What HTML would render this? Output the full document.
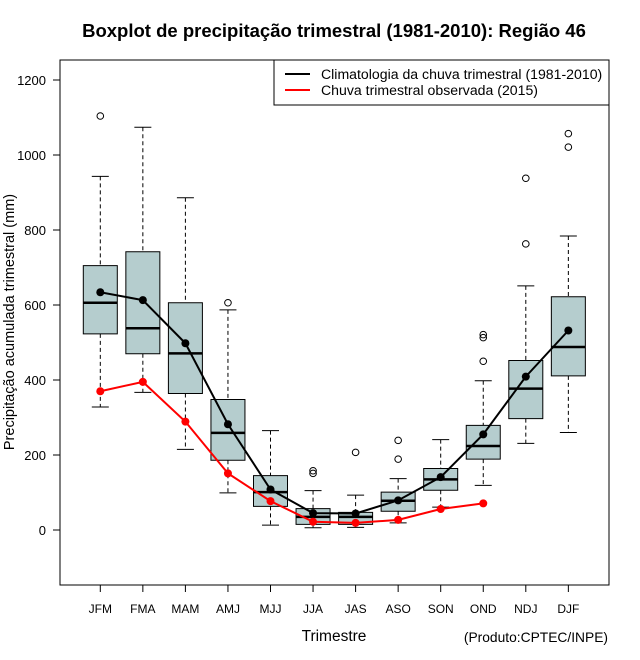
<!DOCTYPE html>
<html><head><meta charset="utf-8"><style>
html,body{margin:0;padding:0;background:#fff;}
svg{display:block;font-family:"Liberation Sans",sans-serif;}
</style></head><body>
<svg id="chart" width="640" height="660">
<text x="334" y="37" text-anchor="middle" font-size="18.5" font-weight="bold">Boxplot de precipitação trimestral (1981-2010): Região 46</text>
<rect x="60" y="60" width="549" height="525" fill="none" stroke="#000" stroke-width="1"/>
<g id="yaxis"></g>
<g id="xaxis"></g>
<g id="boxes"></g>
<g id="lines"></g>
<text transform="translate(14,322) rotate(-90)" text-anchor="middle" font-size="14.5">Precipitação acumulada trimestral (mm)</text>
<text x="334" y="641" text-anchor="middle" font-size="15.5">Trimestre</text>
<text x="608" y="642" text-anchor="end" font-size="13.8">(Produto:CPTEC/INPE)</text>
<g>
<rect x="274" y="60" width="335" height="45" fill="#fff" stroke="#000"/>
<line x1="285" y1="74" x2="310" y2="74" stroke="#000" stroke-width="2"/>
<text x="321" y="79" font-size="14.1">Climatologia da chuva trimestral (1981-2010)</text>
<line x1="285" y1="90" x2="310" y2="90" stroke="#f00" stroke-width="2"/>
<text x="321" y="95" font-size="14.1">Chuva trimestral observada (2015)</text>
</g>
</svg>
<script>
const categories=["JFM","FMA","MAM","AMJ","MJJ","JJA","JAS","ASO","SON","OND","NDJ","DJF"];
const whiskerLow=[328,367,215,99,13,6,7,19,61,119,231,260];
const q1=[523,470,364,186,63,15,15,50,106,189,297,411];
const median=[606,538,471,259,101,35,35,78,135,224,377,488];
const q3=[705,742,606,348,145,57,47,101,164,279,452,622];
const whiskerHigh=[943,1074,886,587,265,105,93,137,241,398,651,784];
const outliers=[[1104],[],[],[606],[],[158,151],[207],[239,189],[],[521,513,450],[938,763],[1057,1021]];
const climMean=[634,613,498,282,108,45,44,79,141,255,409,532];
const observed=[370,395,289,151,77,22,19,27,56,71];
const yTicks=[0,200,400,600,800,1000,1200];

const NS="http://www.w3.org/2000/svg";
function y(v){return 530-v*0.375;}
function x(i){return 100.3+i*42.55;}
function mk(tag,attrs,parent){const e=document.createElementNS(NS,tag);for(const k in attrs)e.setAttribute(k,attrs[k]);parent.appendChild(e);return e;}
const ya=document.getElementById('yaxis'),xa=document.getElementById('xaxis'),bx=document.getElementById('boxes'),ln=document.getElementById('lines');
yTicks.forEach(t=>{
 const l=mk('line',{x1:53,x2:60,y1:y(t),y2:y(t),stroke:'#000'},ya);
 
 
 const tx=mk('text',{x:46,y:y(t)+5,'text-anchor':'end','font-size':13},ya);
 tx.textContent=t;
 
 
});
categories.forEach((c,i)=>{
 const l=mk('line',{x1:x(i),x2:x(i),y1:585,y2:592,stroke:'#000'},xa);
 
 
 const tx=mk('text',{x:x(i),y:613,'text-anchor':'middle','font-size':12},xa);
 tx.textContent=c;
 
 
 const g=mk('g',{},bx);
 
 
 const cx=x(i),h=17,cap=8.5;
 mk('line',{x1:cx,x2:cx,y1:y(whiskerHigh[i]),y2:y(q3[i]),stroke:'#000','stroke-dasharray':'4,3'},g);
 mk('line',{x1:cx,x2:cx,y1:y(q1[i]),y2:y(whiskerLow[i]),stroke:'#000','stroke-dasharray':'4,3'},g);
 mk('line',{x1:cx-cap,x2:cx+cap,y1:y(whiskerHigh[i]),y2:y(whiskerHigh[i]),stroke:'#000'},g);
 mk('line',{x1:cx-cap,x2:cx+cap,y1:y(whiskerLow[i]),y2:y(whiskerLow[i]),stroke:'#000'},g);
 mk('rect',{x:cx-h,y:y(q3[i]),width:2*h,height:y(q1[i])-y(q3[i]),fill:'#b5cdce',stroke:'#000'},g);
 mk('line',{x1:cx-h,x2:cx+h,y1:y(median[i]),y2:y(median[i]),stroke:'#000','stroke-width':2.5},g);
 outliers[i].forEach(o=>{mk('circle',{cx:cx,cy:y(o),r:3.3,fill:'none',stroke:'#000'},g);});
});
const cp=mk('polyline',{points:climMean.map((v,i)=>x(i)+','+y(v)).join(' '),fill:'none',stroke:'#000','stroke-width':2},ln);


climMean.forEach((v,i)=>{const c=mk('circle',{cx:x(i),cy:y(v),r:4,fill:'#000'},ln);
 
 });
const op=mk('polyline',{points:observed.map((v,i)=>x(i)+','+y(v)).join(' '),fill:'none',stroke:'#f00','stroke-width':2},ln);


observed.forEach((v,i)=>{const c=mk('circle',{cx:x(i),cy:y(v),r:4,fill:'#f00'},ln);
 
 });
</script>
</body></html>
